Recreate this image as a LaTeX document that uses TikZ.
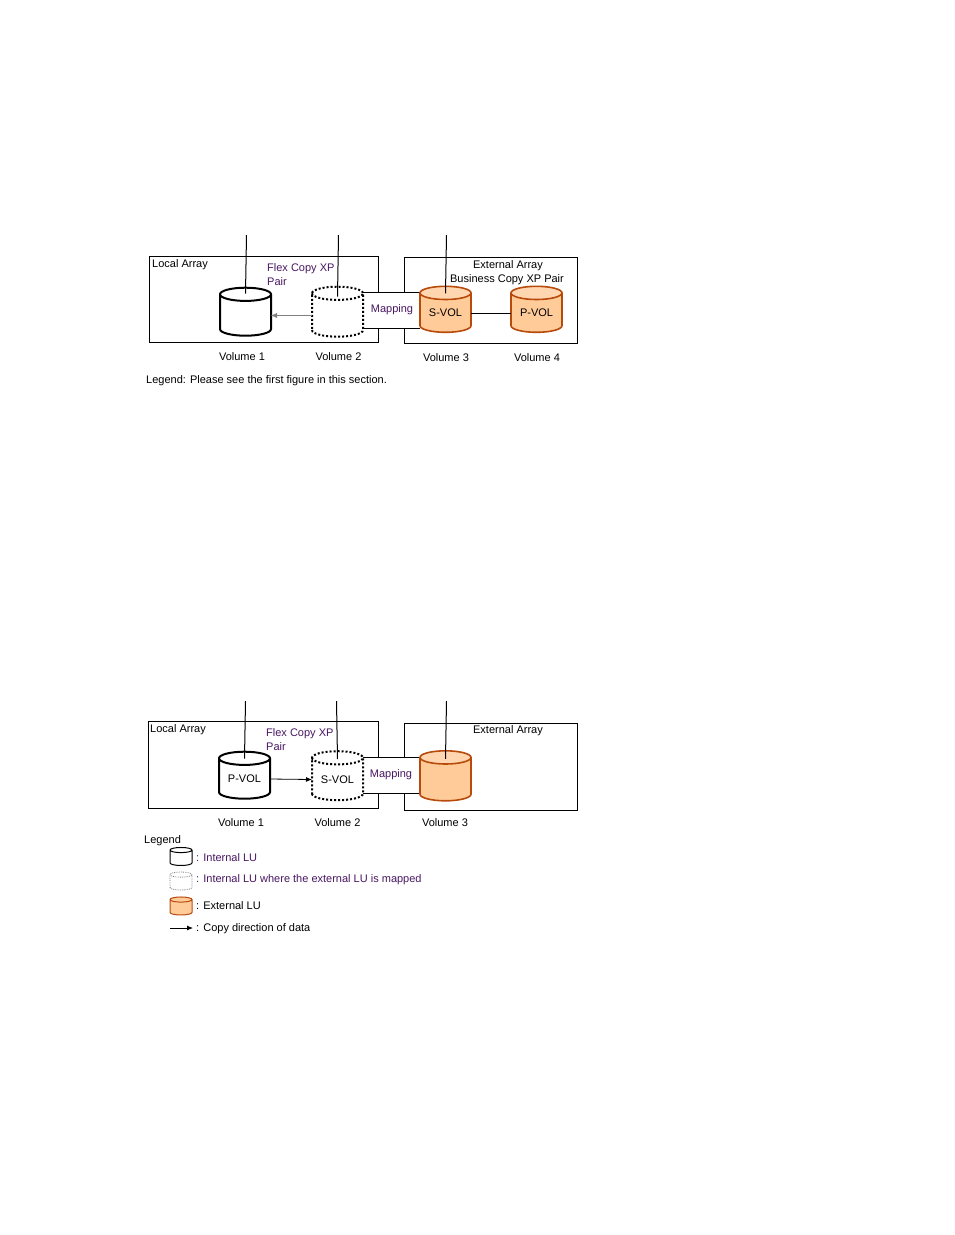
\documentclass[tikz,border=0pt]{standalone}
\usepackage{fontspec}
\setmainfont{Liberation Sans}
\usetikzlibrary{shapes.geometric,arrows.meta,positioning}
\definecolor{extfill}{RGB}{255,204,153}
\definecolor{extcap}{RGB}{255,214,176}
\definecolor{extline}{RGB}{184,74,12}
\definecolor{lbltxt}{RGB}{72,22,98}

\begin{document}
\begin{tikzpicture}[x=1pt, y=-1pt, font=\fontsize{11}{14}\selectfont,
  arraybox/.style={draw, line width=0.9pt, inner sep=0pt, outer sep=0pt},
  lu/.style={cylinder, shape border rotate=90, aspect=0.4, inner sep=0pt, outer sep=0pt,
    minimum width=51pt, minimum height=48pt},
  intlu/.style={lu, draw, line width=2pt, fill=white},
  maplu/.style={lu, draw, line width=2pt, dotted, fill=white},
  extlu/.style={lu, draw=extline, line width=1.6pt, cylinder uses custom fill,
    cylinder body fill=extfill, cylinder end fill=extcap},
  keylu/.style={lu, minimum width=22pt, minimum height=18pt, aspect=0.35},
  mapbox/.style={fill=white, inner sep=0pt, minimum height=36pt},
  host/.style={line width=1pt},
  lbl/.style={inner sep=0pt, anchor=west}]
  \useasboundingbox (0,0) rectangle (954,1235);

  % first figure
  \node[arraybox, minimum width=229pt, minimum height=86pt] (la1) at (263.5,299) {};
  \node[arraybox, minimum width=173pt, minimum height=86pt] (ea1) at (490.5,300) {};
  \node[lbl] (la1t) at (152,265) {Local Array};
  \node[inner sep=0pt, anchor=north] (ea1t) at (508,260) {External Array};
  \node[inner sep=0pt] (bc1t) at (507,280) {Business Copy XP Pair};
  \node[inner sep=0pt, anchor=north west, align=left, text=lbltxt] (fc1t) at (267,263) {Flex Copy XP\\Pair};
  \node[mapbox, minimum width=57pt] (map1) at (391.5,310) {};
  \draw (map1.north west) -- (map1.north east);
  \draw (map1.south west) -- (map1.south east);
  \node[inner sep=0pt, text=lbltxt] (map1t) at (392,310) {Mapping};
  \node[intlu] (v1a) at (245.5,315.5) {\phantom{S-VOL}};
  \node[maplu, minimum height=50pt] (v2a) at (337.5,315.5) {\phantom{S-VOL}};
  \node[extlu, minimum height=46pt] (v3a) at (445.5,313) {S-VOL};
  \node[extlu, minimum height=46pt] (v4a) at (536.5,313) {P-VOL};
  \draw[gray, -{Latex[length=6pt,width=5pt]}] (v2a.west) -- (v1a.east);
  \draw (v3a.east) -- (v4a.west);
  \coordinate (h1a) at (246.5,235);
  \coordinate (h2a) at (338.5,235);
  \coordinate (h3a) at (446.5,235);
  \draw[host] (h1a) -- ([yshift=-6pt]v1a.top);
  \draw[host] (h2a) -- ([yshift=-10pt]v2a.top);
  \draw[host] (h3a) -- ([yshift=-7pt]v3a.top);
  \node[inner sep=0pt] (vol1a) at (242,357) {Volume 1};
  \node[inner sep=0pt] (vol2a) at (338.5,357) {Volume 2};
  \node[inner sep=0pt] (vol3a) at (446,357.5) {Volume 3};
  \node[inner sep=0pt] (vol4a) at (537,358) {Volume 4};
  \node[lbl] (leg1) at (146,381) {Legend: Please see the first figure in this section.};

  % second figure
  \node[arraybox, minimum width=230pt, minimum height=87pt] (la2) at (263,764.5) {};
  \node[arraybox, minimum width=173pt, minimum height=87pt] (ea2) at (490.5,766.5) {};
  \node[lbl] (la2t) at (150,730) {Local Array};
  \node[inner sep=0pt, anchor=north] (ea2t) at (508,725) {External Array};
  \node[inner sep=0pt, anchor=north west, align=left, text=lbltxt] (fc2t) at (266,728) {Flex Copy XP\\Pair};
  \node[mapbox, minimum width=58pt] (map2) at (391,775) {};
  \draw (map2.north west) -- (map2.north east);
  \draw (map2.south west) -- (map2.south east);
  \node[inner sep=0pt, text=lbltxt] (map2t) at (391,775) {Mapping};
  \node[intlu, minimum height=47pt] (v1b) at (244.5,779) {P-VOL};
  \node[maplu, minimum height=49pt] (v2b) at (337.5,779.5) {S-VOL};
  \node[extlu, minimum height=50pt] (v3b) at (445.5,779.5) {\phantom{S-VOL}};
  \draw[line width=0.8pt, -{Latex[length=6pt,width=5pt]}] (v1b.east) -- (v2b.west);
  \coordinate (h1b) at (245.5,701);
  \coordinate (h2b) at (336.5,701);
  \coordinate (h3b) at (446.5,701);
  \draw[host] (h1b) -- ([yshift=-7pt]v1b.top);
  \draw[host] (h2b) -- ([yshift=-8pt]v2b.top);
  \draw[host] (h3b) -- ([yshift=-8pt]v3b.top);
  \node[inner sep=0pt] (vol1b) at (241,823) {Volume 1};
  \node[inner sep=0pt] (vol2b) at (337.5,823) {Volume 2};
  \node[inner sep=0pt] (vol3b) at (445,823) {Volume 3};

  % legend
  \node[lbl] (leg2) at (144,841) {Legend};
  \node[keylu, draw, line width=1pt, fill=white] (k1) at (181,858) {\phantom{XX}};
  \node[keylu, draw=gray, line width=0.8pt, densely dotted, fill=white] (k2) at (181,882.5) {\phantom{XX}};
  \node[keylu, draw=extline, line width=1pt, fill=extfill] (k3) at (181,907.5) {\phantom{XX}};
  \coordinate (k4a) at (170,928);
  \coordinate (k4b) at (193,928);
  \draw[line width=0.8pt, -{Latex[length=6pt,width=5pt]}] (k4a) -- (k4b);
  \node[lbl, text=lbltxt] (k1t) at (196,858) {: Internal LU};
  \node[lbl, text=lbltxt] (k2t) at (196,880) {: Internal LU where the external LU is mapped};
  \node[lbl] (k3t) at (196,906) {: External LU};
  \node[lbl] (k4t) at (196,929) {: Copy direction of data};
\end{tikzpicture}
\end{document}
